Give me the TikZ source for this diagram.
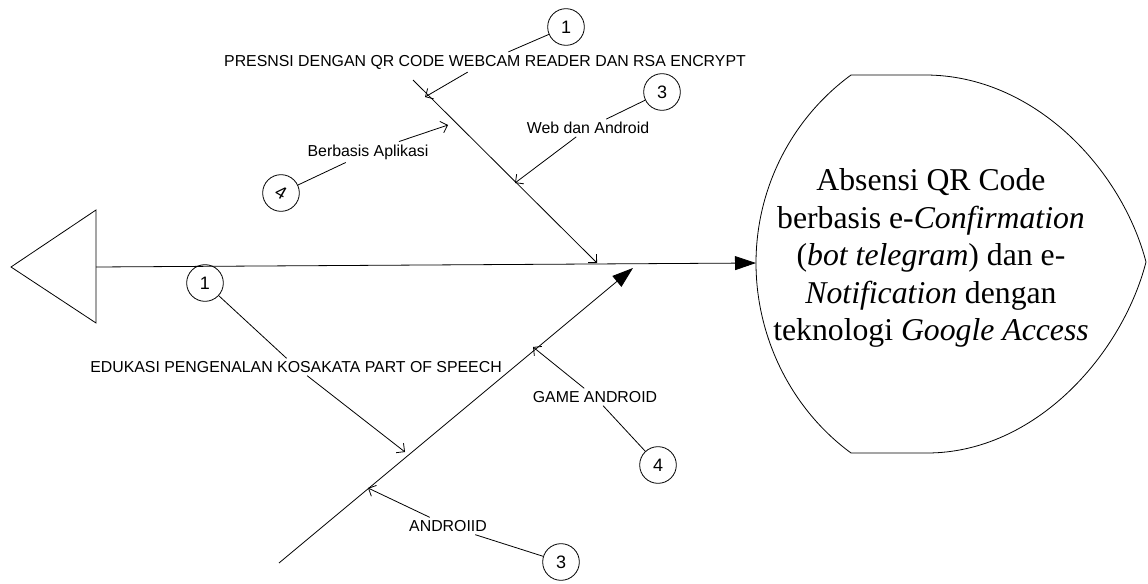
\documentclass[tikz,border=0pt]{standalone}
\usepackage{fontspec}
\setmainfont{Liberation Serif}
\setsansfont{Liberation Sans}
\usetikzlibrary{arrows.meta}

\begin{document}
\begin{tikzpicture}[x=0.75pt, y=-0.75pt, line width=0.6pt,
    num/.style={draw, circle, minimum size=27.5pt, inner sep=0pt, font=\sffamily\fontsize{13.5}{15}\selectfont},
    lbl/.style={inner sep=2pt, font=\sffamily\fontsize{11.9}{14}\selectfont},
    barb/.style={-{Straight Barb[length=4.5pt, width=9pt]}},
    bigtip/.style={-{Triangle[length=15.75pt, width=10.5pt]}}]
\useasboundingbox (0,0) rectangle (1148,584);

\draw (96,210) -- (11,267) -- (96,323) -- cycle;
\draw (851,75) .. controls (791,119) and (756,189) .. (756,263)
    .. controls (756,337) and (791,409) .. (851,453) -- (927,453)
    .. controls (1035,453) and (1122,355) .. (1146,262)
    .. controls (1122,170) and (1035,75) .. (925,75) -- cycle;
\node[font=\fontsize{23.8}{28.1}\selectfont, align=center] (goal) at (931,258)
    {Absensi QR Code\\berbasis e-\textit{Confirmation}\\(\textit{bot telegram}) dan e-\\\textit{Notification} dengan\\teknologi \textit{Google Access}};

\coordinate (tail) at (96,267);
\coordinate (head) at (756,263);
\coordinate (u1) at (413,80);
\coordinate (u2) at (597,263);
\coordinate (l1) at (279,563);
\coordinate (l2) at (633,268);
\draw[bigtip] (tail) -- (head);
\draw[barb] (u1) -- (u2);
\draw[bigtip] (l1) -- (l2);

\node[num] (n1a) at (566,27) {1};
\node[lbl] (presensi) at (485,62) {PRESNSI DENGAN QR CODE WEBCAM READER DAN RSA ENCRYPT};
\coordinate (t1a) at (425,97);
\node[num] (n3a) at (662,92) {3};
\node[lbl] (webandroid) at (588,128) {Web dan Android};
\coordinate (t3a) at (515,183);
\node[num] (n4a) at (281,193) {\rotatebox{-30}{4}};
\node[lbl] (aplikasi) at (368,152) {Berbasis Aplikasi};
\coordinate (t4a) at (448,125);

\node[num] (n1b) at (205,283) {1};
\node[lbl] (edukasi) at (296,367) {EDUKASI PENGENALAN KOSAKATA PART OF SPEECH};
\coordinate (t1b) at (405,452);
\node[num] (n4b) at (658,465) {4};
\node[lbl] (game) at (595,397) {GAME ANDROID};
\coordinate (t4b) at (533,347);
\node[num] (n3b) at (561,562) {3};
\node[lbl] (androiid) at (448,526) {ANDROIID};
\coordinate (t3b) at (368,488);

\draw (n1a) -- (presensi);
\draw[barb] (presensi) -- (t1a);
\draw (n3a) -- (webandroid);
\draw[barb] (webandroid) -- (t3a);
\draw (n4a) -- (aplikasi);
\draw[barb] (aplikasi) -- (t4a);
\draw (n1b) -- (edukasi);
\draw[barb] (edukasi) -- (t1b);
\draw (n4b) -- (game);
\draw[barb] (game) -- (t4b);
\draw (n3b) -- (androiid);
\draw[barb] (androiid) -- (t3b);
\end{tikzpicture}
\end{document}
